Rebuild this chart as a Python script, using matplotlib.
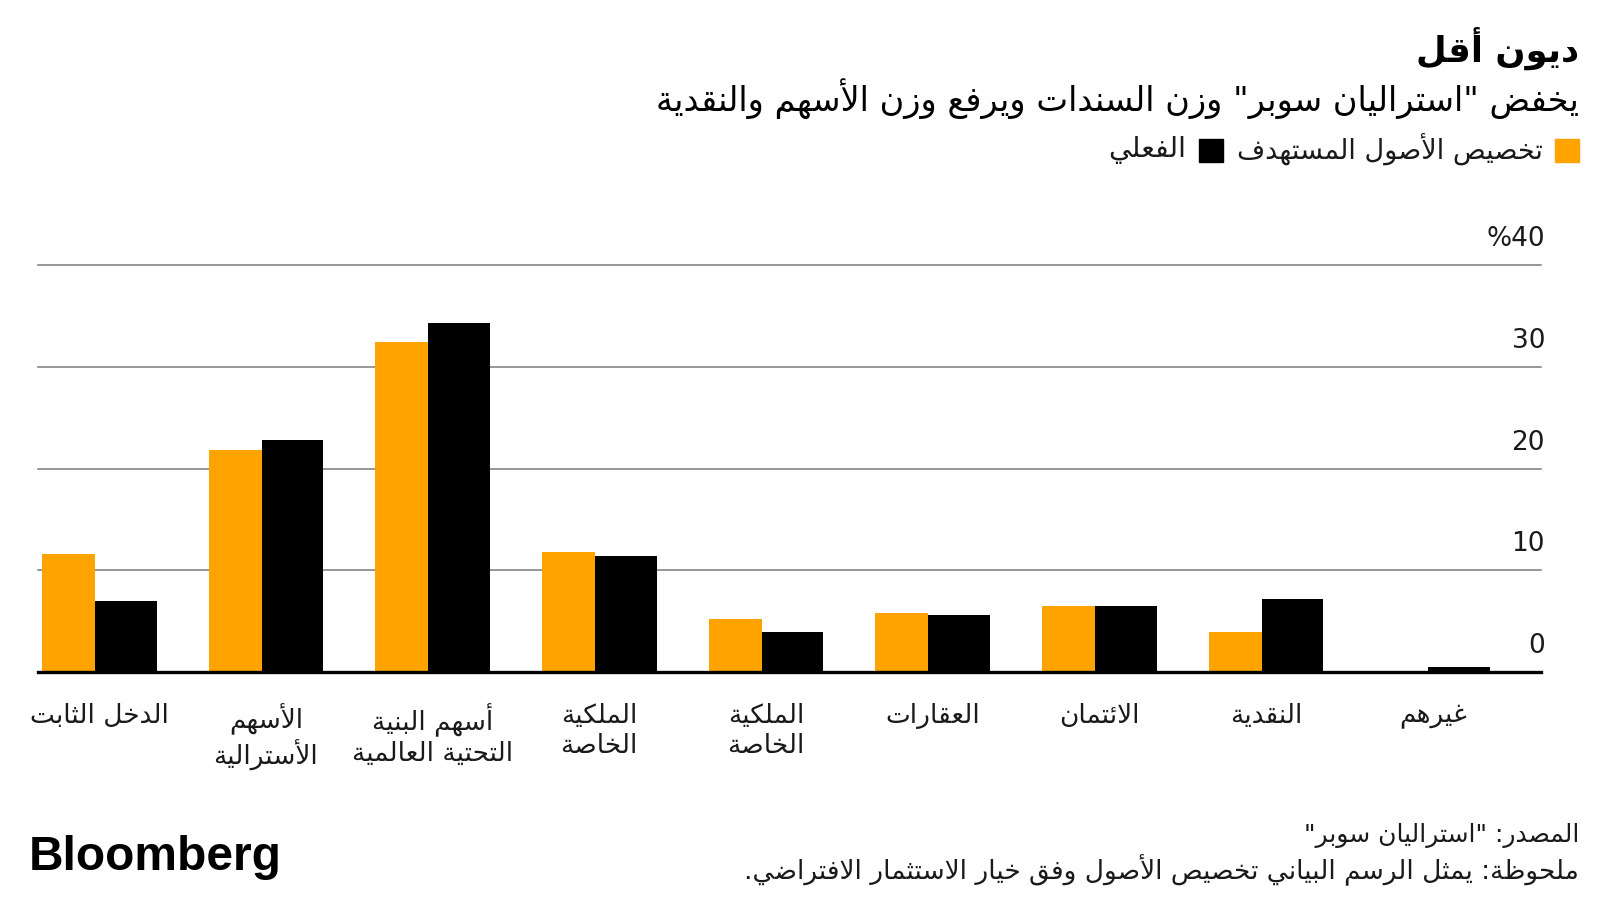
import matplotlib
matplotlib.use("Agg")
import matplotlib.pyplot as plt
from matplotlib import transforms
from matplotlib.patches import Rectangle

# ---------------- data ----------------
categories = [
    "الدخل الثابت",
    "الأسهم\nالأسترالية",
    "أسهم البنية\nالتحتية العالمية",
    "الملكية\nالخاصة",
    "الملكية\nالخاصة",
    "العقارات",
    "الائتمان",
    "النقدية",
    "غيرهم",
]
target = [11.6, 21.8, 32.4, 11.8, 5.2, 5.8, 6.5, 4.0, 0.0]
actual = [7.0, 22.8, 34.3, 11.4, 4.0, 5.6, 6.5, 7.2, 0.5]
yticks = [0, 10, 20, 30, 40]
ytick_labels = ["0", "10", "20", "30", "%40"]
series_names = ["تخصيص الأصول المستهدف", "الفعلي"]
title = "ديون أقل"
subtitle = 'يخفض "استراليان سوبر" وزن السندات ويرفع وزن الأسهم والنقدية'
source = 'المصدر: "استراليان سوبر"'
note = "ملحوظة: يمثل الرسم البياني تخصيص الأصول وفق خيار الاستثمار الافتراضي."

ORANGE = "#FFA300"
BLACK = "#000000"

# ---------------- minimal Arabic shaping ----------------
_order = [('\u0621', 1), ('\u0622', 2), ('\u0623', 2), ('\u0624', 2), ('\u0625', 2),
          ('\u0626', 4), ('\u0627', 2), ('\u0628', 4), ('\u0629', 2), ('\u062A', 4),
          ('\u062B', 4), ('\u062C', 4), ('\u062D', 4), ('\u062E', 4), ('\u062F', 2),
          ('\u0630', 2), ('\u0631', 2), ('\u0632', 2), ('\u0633', 4), ('\u0634', 4),
          ('\u0635', 4), ('\u0636', 4), ('\u0637', 4), ('\u0638', 4), ('\u0639', 4),
          ('\u063A', 4), ('\u0641', 4), ('\u0642', 4), ('\u0643', 4), ('\u0644', 4),
          ('\u0645', 4), ('\u0646', 4), ('\u0647', 4), ('\u0648', 2), ('\u0649', 2),
          ('\u064A', 4)]
FORMS = {}
_code = 0xFE80
for _ch, _n in _order:
    FORMS[_ch] = [chr(_code + k) for k in range(_n)]
    _code += _n
LAM_ALEF = {'\u0622': (0xFEF5, 0xFEF6), '\u0623': (0xFEF7, 0xFEF8),
            '\u0625': (0xFEF9, 0xFEFA), '\u0627': (0xFEFB, 0xFEFC)}


def _jt(tok):
    kind, c = tok
    if kind == 'LA':
        return 'R'
    if c in FORMS:
        n = len(FORMS[c])
        return 'D' if n == 4 else ('R' if n == 2 else 'U')
    return 'U'


def shape_line(s):
    tokens = []
    i = 0
    while i < len(s):
        c = s[i]
        if c == '\u0644' and i + 1 < len(s) and s[i + 1] in LAM_ALEF:
            tokens.append(('LA', s[i + 1]))
            i += 2
        else:
            tokens.append(('C', c))
            i += 1
    out = []
    for k, tok in enumerate(tokens):
        t = _jt(tok)
        pj = k > 0 and _jt(tokens[k - 1]) == 'D'
        nj = k + 1 < len(tokens) and _jt(tokens[k + 1]) in ('D', 'R')
        kind, c = tok
        if kind == 'LA':
            out.append(chr(LAM_ALEF[c][1 if pj else 0]))
        elif c in FORMS:
            f = FORMS[c]
            if t == 'D':
                if pj and nj:
                    out.append(f[3])
                elif pj:
                    out.append(f[1])
                elif nj:
                    out.append(f[2])
                else:
                    out.append(f[0])
            elif t == 'R':
                out.append(f[1] if pj else f[0])
            else:
                out.append(f[0])
        else:
            out.append(c)
    return ''.join(reversed(out))


def ar(s):
    return "\n".join(shape_line(line) for line in s.split("\n"))


# ---------------- figure ----------------
plt.rcParams['font.family'] = ['DejaVu Sans']
W, H = 1600, 900
fig = plt.figure(figsize=(16, 9), dpi=100)
fig.patch.set_facecolor("white")

ax = fig.add_axes([38 / W, 1 - 672.3 / H, (1541 - 38) / W, (672.3 - 264.7) / H])
ax.set_xlim(-0.367, 8.649)
ax.set_ylim(0, 40)
ax.axis("off")

x = list(range(len(categories)))
ax.bar([i - 0.344 for i in x], target, width=0.318, align="edge", color=ORANGE, zorder=2)
ax.bar([i - 0.026 for i in x], actual, width=0.370, align="edge", color=BLACK, zorder=2)

for v in yticks[1:]:
    ax.axhline(v, color="#7a7a7a", lw=1.1, zorder=1, clip_on=False)
ax.axhline(0, color=BLACK, lw=2.4, zorder=3, clip_on=False)

# y labels on right
ytr = transforms.offset_copy(
    transforms.blended_transform_factory(fig.transFigure, ax.transData),
    fig=fig, x=0, y=19, units="dots")
for v, lab in zip(yticks, ytick_labels):
    fig.text(1545 / W, v, lab, transform=ytr, ha="right", va="baseline",
             fontsize=19, color="#1a1a1a")

# x labels
xtr = transforms.offset_copy(ax.transData, fig=fig, x=0, y=-31, units="dots")
for i, c in zip(x, categories):
    ax.text(i, 0, ar(c), transform=xtr, ha="center", va="top", fontsize=19,
            color="#1a1a1a", linespacing=1.2, multialignment="center")

# title / subtitle
fig.text(1579 / W, 1 - 48 / H, ar(title), ha="right", va="center",
         fontsize=25.5, fontweight="bold", color=BLACK)
fig.text(1579 / W, 1 - 99 / H, ar(subtitle), ha="right", va="center",
         fontsize=24.2, color=BLACK)

# legend
fig.patches.append(Rectangle((1555 / W, 1 - 162 / H), 24 / W, 23 / H,
                             transform=fig.transFigure, color=ORANGE))
fig.text(1543 / W, 1 - 150 / H, ar(series_names[0]), ha="right", va="center",
         fontsize=19.5, color="#1a1a1a")
fig.patches.append(Rectangle((1199 / W, 1 - 162 / H), 24 / W, 23 / H,
                             transform=fig.transFigure, color=BLACK))
fig.text(1186 / W, 1 - 150 / H, ar(series_names[1]), ha="right", va="center",
         fontsize=20.5, color="#1a1a1a")

# footer
fig.text(1579 / W, 1 - 835 / H, ar(source), ha="right", va="center",
         fontsize=18, color="#1a1a1a")
fig.text(1579 / W, 1 - 870 / H, ar(note), ha="right", va="center",
         fontsize=19, color="#1a1a1a")
fig.text(29 / W, 1 - 858 / H, "Bloomberg", ha="left", va="center",
         fontsize=34.5, fontweight="bold", family=["Liberation Sans", "DejaVu Sans"],
         color=BLACK)

fig.savefig("out.png", dpi=100, facecolor="white")
